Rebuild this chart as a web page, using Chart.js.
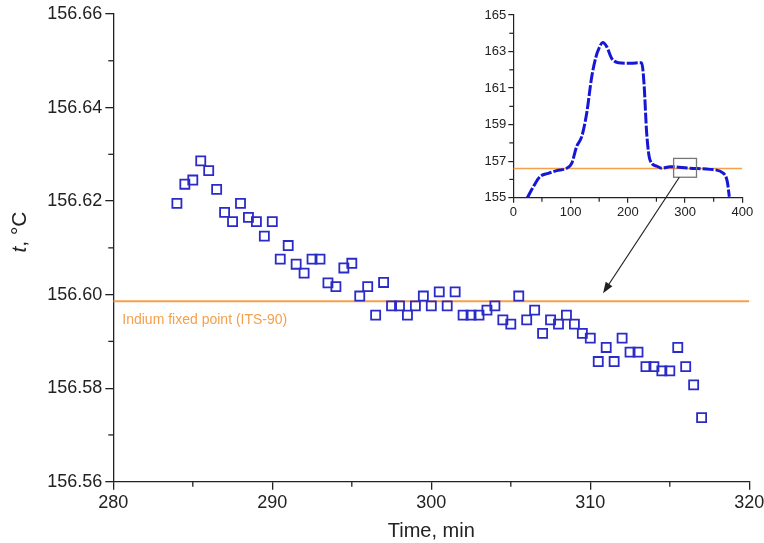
<!DOCTYPE html>
<html>
<head>
<meta charset="utf-8">
<script src="https://cdn.jsdelivr.net/npm/chart.js@4.4.1/dist/chart.umd.min.js"></script>
<style>
  body { margin: 0; background: #fff; }
  #wrap { position: relative; width: 764px; height: 543px; }
  #main { position: absolute; left: 0; top: 0; }
  #inset { position: absolute; left: 440px; top: 0; }
</style>
</head>
<body>
<div id="wrap">
  <canvas id="main" width="764" height="543"></canvas>
  <canvas id="inset" width="324" height="320"></canvas>
</div>
<script>
// main plot: temperature on the plateau, one reading every 30 s
const times = [284.0, 284.5, 285.0, 285.5, 286.0, 286.5, 287.0, 287.5, 288.0, 288.5,
	289.0, 289.5, 290.0, 290.5, 291.0, 291.5, 292.0, 292.5, 293.0, 293.5,
	294.0, 294.5, 295.0, 295.5, 296.0, 296.5, 297.0, 297.5, 298.0, 298.5,
	299.0, 299.5, 300.0, 300.5, 301.0, 301.5, 302.0, 302.5, 303.0, 303.5,
	304.0, 304.5, 305.0, 305.5, 306.0, 306.5, 307.0, 307.5, 308.0, 308.5,
	309.0, 309.5, 310.0, 310.5, 311.0, 311.5, 312.0, 312.5, 313.0, 313.5,
	314.0, 314.5, 315.0, 315.5, 316.0, 316.5, 317.0];
const temps = [156.6195, 156.6236, 156.6245, 156.6286, 156.6265, 156.6225, 156.6176, 156.6156, 156.6195, 156.6165,
	156.6156, 156.6125, 156.6156, 156.6076, 156.6105, 156.6065, 156.6046, 156.6076, 156.6076, 156.6025,
	156.6017, 156.6057, 156.6067, 156.5997, 156.6017, 156.5956, 156.6026, 156.5976, 156.5976, 156.5956,
	156.5976, 156.5997, 156.5976, 156.6006, 156.5976, 156.6006, 156.5956, 156.5956, 156.5956, 156.5967,
	156.5976, 156.5946, 156.5937, 156.5997, 156.5946, 156.5967, 156.5917, 156.5946, 156.5937, 156.5956,
	156.5937, 156.5917, 156.5907, 156.5857, 156.5887, 156.5857, 156.5907, 156.5877, 156.5877, 156.5846,
	156.5846, 156.5837, 156.5837, 156.5887, 156.5846, 156.5807, 156.5737];
const fixedPoint = 156.5986;
const fixedLabel = 'Indium fixed point (ITS-90)';
const xTicks = [280, 290, 300, 310, 320];
const yTicks = [156.56, 156.58, 156.60, 156.62, 156.64, 156.66];

// inset: the whole run
const insetTime = [24.5, 35, 46.6, 61, 75.7, 93.2, 102, 110.7, 119.5, 128.2,
	137, 144.5, 150, 156.1, 163.1, 171.8, 183.4, 203.8, 224.2, 228.3,
	233, 238.8, 250.5, 259.2, 273.7, 308.6, 343.6, 366.8, 373.8, 377.3];
const insetTemp = [155.0, 155.6, 156.15, 156.33, 156.48, 156.61, 156.88, 157.8, 158.34, 159.62,
	161.62, 162.72, 163.2, 163.49, 163.27, 162.63, 162.39, 162.36, 162.39, 161.26,
	158.52, 157.06, 156.73, 156.61, 156.7, 156.61, 156.55, 156.34, 155.88, 155.05];
const insetXTicks = [0, 100, 200, 300, 400];
const insetYTicks = [155, 157, 159, 161, 163, 165];
const zoomBox = [280, 320, 156.12, 157.15];   // xmin, xmax, ymin, ymax
const arrowFrom = [290, 156.12];              // inset coords
const arrowTo = [310.8, 156.6003];            // main coords

const blue = '#2b2bc8';
const orange = '#f5a04a';
const ink = '#222';

function pts(xs, ys) {
	let out = [];
	for (let i = 0; i < xs.length; i++) out.push({ x: xs[i], y: ys[i] });
	return out;
}

// short ticks half way between the labelled ones
function minorTicks(len, width) {
	return {
		id: 'minorTicks',
		afterDraw(chart) {
			const ctx = chart.ctx;
			ctx.save();
			ctx.strokeStyle = ink;
			ctx.lineWidth = width;
			const xs = chart.scales.x, ys = chart.scales.y;
			for (let i = 0; i < xs.ticks.length - 1; i++) {
				const px = xs.getPixelForValue((xs.ticks[i].value + xs.ticks[i + 1].value) / 2);
				ctx.beginPath();
				ctx.moveTo(px, xs.top);
				ctx.lineTo(px, xs.top + len);
				ctx.stroke();
			}
			for (let i = 0; i < ys.ticks.length - 1; i++) {
				const py = ys.getPixelForValue((ys.ticks[i].value + ys.ticks[i + 1].value) / 2);
				ctx.beginPath();
				ctx.moveTo(ys.right, py);
				ctx.lineTo(ys.right - len, py);
				ctx.stroke();
			}
			ctx.restore();
		}
	};
}

const mainExtras = {
	id: 'mainExtras',
	afterDraw(chart) {
		const ctx = chart.ctx;
		const area = chart.chartArea;
		ctx.save();
		// label under the fixed point line
		ctx.fillStyle = orange;
		ctx.font = '14px "Liberation Sans", Arial, sans-serif';
		ctx.textBaseline = 'middle';
		ctx.fillText(fixedLabel, area.left + 9, chart.scales.y.getPixelForValue(fixedPoint) + 19);
		// y title "t, °C" with italic t
		ctx.translate(20, 232);
		ctx.rotate(-Math.PI / 2);
		ctx.fillStyle = ink;
		ctx.textBaseline = 'middle';
		ctx.font = 'italic 21px "Liberation Sans", Arial, sans-serif';
		const w1 = ctx.measureText('t').width;
		ctx.font = '21px "Liberation Sans", Arial, sans-serif';
		const w2 = ctx.measureText(', °C').width;
		let x0 = -(w1 + w2) / 2;
		ctx.font = 'italic 21px "Liberation Sans", Arial, sans-serif';
		ctx.fillText('t', x0, 0);
		ctx.font = '21px "Liberation Sans", Arial, sans-serif';
		ctx.fillText(', °C', x0 + w1, 0);
		ctx.restore();
	}
};

const mainChart = new Chart(document.getElementById('main'), {
	type: 'scatter',
	data: {
		datasets: [{
			data: pts(times, temps),
			pointStyle: 'rect',
			pointRadius: 6.4,
			pointBorderWidth: 1.8,
			pointBorderColor: blue,
			pointBackgroundColor: 'rgba(0,0,0,0)',
			showLine: false
		}, {
			type: 'line',
			data: pts([280, 320], [fixedPoint, fixedPoint]),
			borderColor: orange,
			borderWidth: 2,
			pointRadius: 0
		}]
	},
	options: {
		responsive: false,
		animation: false,
		events: [],
		layout: { padding: { left: 0, right: 14.7, top: 14, bottom: 0 } },
		plugins: { legend: { display: false }, tooltip: { enabled: false } },
		scales: {
			x: {
				type: 'linear', min: 280, max: 320,
				afterBuildTicks: s => { s.ticks = xTicks.map(v => ({ value: v })); },
				afterFit: s => { s.height = 61.3; s.paddingLeft = 0; s.paddingRight = 0; },
				grid: { drawOnChartArea: false, tickLength: 8, color: ink, lineWidth: 1.3 },
				border: { color: ink, width: 1.3 },
				ticks: { color: ink, font: { size: 18, family: '"Liberation Sans", Arial' }, padding: 3, maxRotation: 0 },
				title: { display: true, text: 'Time, min', color: ink, font: { size: 20, family: '"Liberation Sans", Arial' }, padding: { top: 1, bottom: 0 } }
			},
			y: {
				type: 'linear', min: 156.56, max: 156.66,
				afterBuildTicks: s => { s.ticks = yTicks.map(v => ({ value: v })); },
				afterFit: s => { s.width = 113.3; },
				grid: { drawOnChartArea: false, tickLength: 8, color: ink, lineWidth: 1.3 },
				border: { color: ink, width: 1.3 },
				ticks: { color: ink, font: { size: 18, family: '"Liberation Sans", Arial' }, padding: 3, callback: v => v.toFixed(2) }
			}
		}
	},
	plugins: [minorTicks(5, 1.3), mainExtras]
});

const insetExtras = {
	id: 'insetExtras',
	afterDraw(chart) {
		const ctx = chart.ctx;
		const xs = chart.scales.x, ys = chart.scales.y;
		ctx.save();
		// zoom box
		const bx = xs.getPixelForValue(zoomBox[0]), bx2 = xs.getPixelForValue(zoomBox[1]);
		const by = ys.getPixelForValue(zoomBox[3]), by2 = ys.getPixelForValue(zoomBox[2]);
		ctx.strokeStyle = '#777';
		ctx.lineWidth = 1.3;
		ctx.strokeRect(bx, by, bx2 - bx, by2 - by);
		// arrow into the main plot
		const off = chart.canvas.offsetLeft - mainChart.canvas.offsetLeft;
		const x1 = xs.getPixelForValue(arrowFrom[0]), y1 = ys.getPixelForValue(arrowFrom[1]);
		const x2 = mainChart.scales.x.getPixelForValue(arrowTo[0]) - off;
		const y2 = mainChart.scales.y.getPixelForValue(arrowTo[1]);
		const a = Math.atan2(y2 - y1, x2 - x1);
		ctx.strokeStyle = ink;
		ctx.lineWidth = 1.2;
		ctx.beginPath();
		ctx.moveTo(x1, y1);
		ctx.lineTo(x2 - 8 * Math.cos(a), y2 - 8 * Math.sin(a));
		ctx.stroke();
		ctx.fillStyle = ink;
		ctx.beginPath();
		ctx.moveTo(x2, y2);
		ctx.lineTo(x2 - 11 * Math.cos(a) + 4 * Math.sin(a), y2 - 11 * Math.sin(a) - 4 * Math.cos(a));
		ctx.lineTo(x2 - 11 * Math.cos(a) - 4 * Math.sin(a), y2 - 11 * Math.sin(a) + 4 * Math.cos(a));
		ctx.closePath();
		ctx.fill();
		ctx.restore();
	}
};

const insetChart = new Chart(document.getElementById('inset'), {
	type: 'line',
	data: {
		datasets: [{
			data: pts(insetTime, insetTemp),
			borderColor: '#1616d6',
			borderWidth: 3,
			borderDash: [11, 2],
			cubicInterpolationMode: 'monotone',
			pointRadius: 0
		}, {
			data: pts([0, 400], [fixedPoint, fixedPoint]),
			borderColor: orange,
			borderWidth: 1.5,
			pointRadius: 0
		}]
	},
	options: {
		responsive: false,
		animation: false,
		events: [],
		layout: { padding: { left: 0, right: 21.7, top: 15, bottom: 100.3 } },
		plugins: { legend: { display: false }, tooltip: { enabled: false } },
		scales: {
			x: {
				type: 'linear', min: 0, max: 400,
				afterBuildTicks: s => { s.ticks = insetXTicks.map(v => ({ value: v })); },
				afterFit: s => { s.height = 22; },
				grid: { drawOnChartArea: false, tickLength: 5, color: ink, lineWidth: 1.2 },
				border: { color: ink, width: 1.2 },
				ticks: { color: ink, font: { size: 13, family: '"Liberation Sans", Arial' }, padding: 2, maxRotation: 0 }
			},
			y: {
				type: 'linear', min: 155, max: 165,
				afterBuildTicks: s => { s.ticks = insetYTicks.map(v => ({ value: v })); },
				afterFit: s => { s.width = 73.3; },
				grid: { drawOnChartArea: false, tickLength: 5, color: ink, lineWidth: 1.2 },
				border: { color: ink, width: 1.2 },
				ticks: { color: ink, font: { size: 13, family: '"Liberation Sans", Arial' }, padding: 2 }
			}
		}
	},
	plugins: [minorTicks(4, 1.2), insetExtras]
});
</script>
</body>
</html>
